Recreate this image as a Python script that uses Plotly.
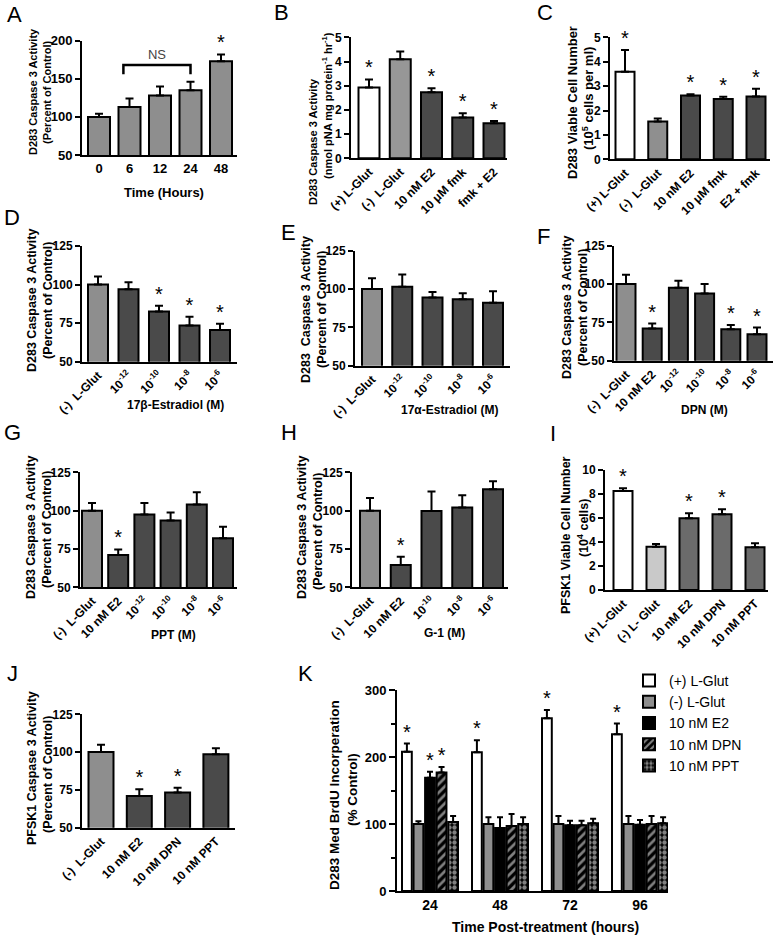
import plotly.graph_objects as go

W, H = 777, 941
FONT = "Liberation Sans, Arial, Helvetica, sans-serif"

# ---------------- data ----------------
A_labels = ["0", "6", "12", "24", "48"]
A_values = [100, 113, 128, 135, 173]
A_errors = [4, 11, 12, 11, 9]
A_stars = [0, 0, 0, 0, 1]
A_ns_x = [0.8, 3.0]
A_ns_y = [156, 168]

B_labels = ["(+) L-Glut", "(-)\u00a0 L-Glut", "10 nM E2", "10 \u03bcM fmk", "fmk + E2"]
B_values = [2.93, 4.09, 2.73, 1.69, 1.45]
B_errors = [0.33, 0.32, 0.16, 0.17, 0.09]
B_stars = [1, 0, 1, 1, 1]

C_labels = ["(+) L-Glut", "(-)\u00a0 L-Glut", "10 nM E2", "10 \u03bcM fmk", "E2 + fmk"]
C_values = [3.59, 1.55, 2.61, 2.47, 2.57]
C_errors = [0.89, 0.12, 0.06, 0.09, 0.32]
C_stars = [1, 0, 1, 1, 1]

D_labels = ["(-)\u00a0 L-Glut", "10<sup>-12</sup>", "10<sup>-10</sup>", "10<sup>-8</sup>", "10<sup>-6</sup>"]
D_values = [100, 97, 82.5, 73.5, 70.5]
D_errors = [5.3, 4.5, 3.7, 5.7, 4.1]
D_stars = [0, 0, 1, 1, 1]

E_labels = ["(-)\u00a0 L-Glut", "10<sup>-12</sup>", "10<sup>-10</sup>", "10<sup>-8</sup>", "10<sup>-6</sup>"]
E_values = [100, 101.5, 94.5, 93.3, 91]
E_errors = [7, 8, 3.5, 4, 7.6]
E_stars = [0, 0, 0, 0, 0]

F_labels = ["(-)\u00a0 L-Glut", "10 nM E2", "10<sup>-12</sup>", "10<sup>-10</sup>", "10<sup>-8</sup>", "10<sup>-6</sup>"]
F_values = [100, 71, 97.5, 93.8, 70.5, 67.3]
F_errors = [6, 3.2, 4.6, 6.2, 2.8, 4.3]
F_stars = [0, 1, 0, 0, 1, 1]

G_labels = ["(-)\u00a0 L-Glut", "10 nM E2", "10<sup>-12</sup>", "10<sup>-10</sup>", "10<sup>-8</sup>", "10<sup>-6</sup>"]
G_values = [100, 71, 97.5, 93.5, 104, 82]
G_errors = [5, 3.7, 7.5, 5.3, 8, 7.5]
G_stars = [0, 1, 0, 0, 0, 0]

H_labels = ["(-)\u00a0 L-Glut", "10 nM E2", "10<sup>-10</sup>", "10<sup>-8</sup>", "10<sup>-6</sup>"]
H_values = [100, 64.5, 99.8, 102, 114]
H_errors = [8.3, 5.4, 12.6, 8, 5.2]
H_stars = [0, 1, 0, 0, 0]

I_labels = ["(+) L-Glut", "(-) L- Glut", "10 nM E2", "10 nM DPN", "10 nM PPT"]
I_values = [8.25, 3.61, 5.97, 6.31, 3.56]
I_errors = [0.22, 0.22, 0.42, 0.41, 0.33]
I_stars = [1, 0, 1, 1, 0]

J_labels = ["(-)\u00a0 L-Glut", "10 nM E2", "10 nM DPN", "10 nM PPT"]
J_values = [100, 71, 73.3, 98.5]
J_errors = [4.8, 4.4, 3.2, 4]
J_stars = [0, 1, 1, 0]

K_times = ["24", "48", "72", "96"]
K_series = ["(+) L-Glut", "(-) L-Glut", "10 nM E2", "10 nM DPN", "10 nM PPT"]
K_values = [
    [208, 207, 258, 234],
    [100, 100, 100, 100],
    [169, 94, 98, 99],
    [177, 97, 98, 100],
    [103, 100, 101, 101],
]
K_errors = [
    [12, 18, 12, 16],
    [4, 10, 12, 12],
    [9, 16, 7, 7],
    [8, 18, 7, 12],
    [9, 10, 7, 9],
]
K_stars = [
    [1, 1, 1, 1],
    [0, 0, 0, 0],
    [1, 0, 0, 0],
    [1, 0, 0, 0],
    [0, 0, 0, 0],
]

# ---------------- styles ----------------
WHITE, LG, MG, DG = "#ffffff", "#c9c9c9", "#8e8e8e", "#4a4a4a"

fig = go.Figure()
layout = {}
annotations = []


def names(n):
    return ("x" if n == 1 else f"x{n}", "y" if n == 1 else f"y{n}",
            "xaxis" if n == 1 else f"xaxis{n}", "yaxis" if n == 1 else f"yaxis{n}")


def add_panel(n, labels, values, errors, stars, colors, geo, yrange, dtick,
              tickangle=-45, xfont=12, yfont=12):
    xa, ya, xn, yn = names(n)
    ax_px, end_px, first_px, step_px, bar_px, ybot_px, ytop_px = geo
    k = len(values)
    pos = list(range(k))
    fig.add_trace(go.Bar(
        x=pos, y=values, width=bar_px / step_px,
        marker=dict(color=colors, line=dict(color="black", width=2)),
        error_y=dict(type="data", symmetric=False, array=errors, arrayminus=[0] * k,
                     color="black", thickness=2, width=4),
        xaxis=xa, yaxis=ya, showlegend=False, hoverinfo="skip"))
    sx = [p for p, s in zip(pos, stars) if s]
    sy = [v + e for v, e, s in zip(values, errors, stars) if s]
    if sx:
        fig.add_trace(go.Scatter(
            x=sx, y=sy, mode="text", text=["*"] * len(sx), textposition="top center",
            textfont=dict(size=20, color="black", family=FONT),
            xaxis=xa, yaxis=ya, showlegend=False, cliponaxis=False, hoverinfo="skip"))
    lo = -(first_px - ax_px) / step_px
    hi = (end_px - first_px) / step_px
    layout[xn] = dict(domain=[ax_px / W, end_px / W], range=[lo, hi], anchor=ya,
                      tickmode="array", tickvals=pos, ticktext=labels, tickangle=tickangle,
                      showline=True, linewidth=2, linecolor="black", ticks="",
                      showgrid=False, zeroline=False,
                      tickfont=dict(size=xfont, color="black", family=FONT, weight="bold"))
    layout[yn] = dict(domain=[1 - ybot_px / H, 1 - ytop_px / H], range=yrange, anchor=xa,
                      tick0=yrange[0], dtick=dtick, ticks="outside", ticklen=5, tickwidth=2,
                      tickcolor="black", showline=True, linewidth=2, linecolor="black",
                      showgrid=False, zeroline=False,
                      tickfont=dict(size=yfont, color="black", family=FONT, weight="bold"))


def text(x, y, t, size, angle=0, bold=True, color="black"):
    annotations.append(dict(x=x / W, y=1 - y / H, xref="paper", yref="paper",
                            text=(f"<b>{t}</b>" if bold else t), showarrow=False,
                            textangle=angle, xanchor="center", yanchor="middle",
                            font=dict(size=size, color=color, family=FONT)))


# A
add_panel(1, A_labels, A_values, A_errors, A_stars, [MG] * 5,
          (82, 237, 99, 30.5, 22, 155, 40.7), [50, 200], 50, tickangle=0, xfont=13, yfont=13)
fig.add_trace(go.Scatter(x=[A_ns_x[0], A_ns_x[0], A_ns_x[1], A_ns_x[1]],
                         y=[A_ns_y[0], A_ns_y[1], A_ns_y[1], A_ns_y[0]], mode="lines",
                         line=dict(color="black", width=2.5), xaxis="x", yaxis="y",
                         showlegend=False, hoverinfo="skip", cliponaxis=False))
fig.add_trace(go.Scatter(x=[(A_ns_x[0] + A_ns_x[1]) / 2], y=[A_ns_y[1] + 4], mode="text",
                         text=["NS"], textposition="top center",
                         textfont=dict(size=13, color="#444444", family=FONT),
                         xaxis="x", yaxis="y", showlegend=False, hoverinfo="skip", cliponaxis=False))
# B
add_panel(2, B_labels, B_values, B_errors, B_stars, [WHITE, "#979797", DG, DG, DG],
          (351, 507, 369, 31.25, 21, 158.3, 37.3), [0, 5], 1)
# C
add_panel(3, C_labels, C_values, C_errors, C_stars, [WHITE, "#8f8f8f", DG, DG, DG],
          (610, 770, 625, 32.75, 19, 159.3, 37.3), [0, 5], 1)
# D
add_panel(4, D_labels, D_values, D_errors, D_stars, [MG] + [DG] * 4,
          (82, 237, 98, 30.5, 20, 361.7, 246), [50, 125], 25)
# E
add_panel(5, E_labels, E_values, E_errors, E_stars, [MG] + [DG] * 4,
          (355, 510, 372, 30.25, 20, 365.7, 250.7), [50, 125], 25)
# F
add_panel(6, F_labels, F_values, F_errors, F_stars, [MG] + [DG] * 5,
          (614, 773, 626, 26.2, 19, 360.7, 245.7), [50, 125], 25)
# G
add_panel(7, G_labels, G_values, G_errors, G_stars, [MG] + [DG] * 5,
          (80, 237, 92, 26.2, 20, 587.3, 472.3), [50, 125], 25)
# H
add_panel(8, H_labels, H_values, H_errors, H_stars, [MG] + [DG] * 4,
          (352, 508, 370, 30.75, 20, 587.3, 472.3), [50, 125], 25)
# I
add_panel(9, I_labels, I_values, I_errors, I_stars, [WHITE, LG, "#6b6b6b", "#6b6b6b", "#6b6b6b"],
          (605, 768, 623, 33, 19, 590, 470), [0, 10], 2)
# J
add_panel(10, J_labels, J_values, J_errors, J_stars, [MG] + [DG] * 3,
          (82, 235, 101, 38.3, 25, 827.7, 714.3), [50, 125], 25)

# K grouped bars
K_colors = [WHITE, MG, "#000000", "#000000", "#000000"]
K_patterns = [None, None, None,
              dict(shape="/", fgcolor="white", bgcolor="black", size=6, solidity=0.45),
              dict(shape=".", fgcolor="white", bgcolor="black", size=5, solidity=0.6)]
K_width = 0.14
K_step = 0.165
kpos = list(range(len(K_times)))
for i, (nm, vals, errs, stars) in enumerate(zip(K_series, K_values, K_errors, K_stars)):
    off = -0.40 + i * K_step
    mk = dict(color=K_colors[i], line=dict(color="black", width=2))
    if K_patterns[i]:
        mk["pattern"] = K_patterns[i]
    fig.add_trace(go.Bar(x=kpos, y=vals, width=K_width, offset=off, name=nm, marker=mk,
                         error_y=dict(type="data", symmetric=False, array=errs,
                                      arrayminus=[0] * len(vals), color="black",
                                      thickness=2, width=3),
                         xaxis="x11", yaxis="y11", showlegend=True, hoverinfo="skip"))
    sx = [p + off + K_width / 2 for p, s in zip(kpos, stars) if s]
    sy = [v + e for v, e, s in zip(vals, errs, stars) if s]
    if sx:
        fig.add_trace(go.Scatter(x=sx, y=sy, mode="text", text=["*"] * len(sx),
                                 textposition="top center",
                                 textfont=dict(size=20, color="black", family=FONT),
                                 xaxis="x11", yaxis="y11", showlegend=False,
                                 cliponaxis=False, hoverinfo="skip"))
layout["xaxis11"] = dict(domain=[397 / W, 668 / W], range=[-33 / 70, (668 - 430) / 70],
                         anchor="y11", tickmode="array", tickvals=kpos, ticktext=K_times,
                         showline=True, linewidth=2, linecolor="black", ticks="",
                         showgrid=False, zeroline=False,
                         tickfont=dict(size=14, color="black", family=FONT, weight="bold"))
layout["yaxis11"] = dict(domain=[1 - 891 / H, 1 - 690 / H], range=[0, 300], anchor="x11",
                         dtick=100, ticks="outside", ticklen=6, tickwidth=2, tickcolor="black",
                         minor=dict(dtick=50, ticks="outside", ticklen=4, tickwidth=2,
                                    tickcolor="black", showgrid=False),
                         showline=True, linewidth=2, linecolor="black", showgrid=False,
                         zeroline=False,
                         tickfont=dict(size=13, color="black", family=FONT, weight="bold"))

# ---------------- texts ----------------
for L, x, y in [("A", 14, 15), ("B", 281, 12), ("C", 545, 12), ("D", 12, 218), ("E", 288, 232),
                ("F", 543, 236), ("G", 12, 432), ("H", 289, 432), ("I", 553, 433),
                ("J", 12, 673), ("K", 305, 673)]:
    text(x, y, L, 22, bold=False)

ytitles = [
    ("D283 Caspase 3 Activity", 33, 92, "(Percent of Control)", 47, 92, 11),
    ("D283 Caspase 3 Activity", 313, 142, "(nmol pNA mg protein<sup>-1</sup> hr<sup>-1</sup>)", 327, 106, 11),
    ("D283 Viable Cell Number", 573, 103, "(10<sup>5</sup> cells per ml)", 588, 99, 13),
    ("D283 Caspase 3 Activity", 32, 301, "(Percent of Control)", 48, 301, 12.5),
    ("D283\u00a0 Caspase 3 Activity", 306, 310, "(Percent of Control)", 322, 310, 12.5),
    ("D283 Caspase 3 Activity", 567, 308, "(Percent of Control)", 583, 308, 12.5),
    ("D283 Caspase 3 Activity", 31, 528, "(Percent of Control)", 47, 530, 12.5),
    ("D283 Caspase 3 Activity", 302, 528, "(Percent of Control)", 318, 532, 12.5),
    ("PFSK1 Viable Cell Number", 566, 535, "(10<sup>4</sup> cells)", 583, 528, 12.5),
    ("PFSK1 Caspase 3 Activity", 32, 768, "(Percent of Control)", 48, 775, 12.5),
    ("D283 Med BrdU Incorperation", 334, 795, "(% Control)", 352, 790, 13.5),
]
for t1, x1, y1, t2, x2, y2, s in ytitles:
    text(x1, y1, t1, s, angle=-90)
    text(x2, y2, t2, s, angle=-90)

text(164, 193, "Time (Hours)", 13)
text(175, 405, "17\u03b2-Estradiol (M)", 12)
text(450, 410, "17\u03b1-Estradiol (M)", 12)
text(704, 410, "DPN (M)", 12)
text(173, 635, "PPT (M)", 12)
text(444, 633, "G-1 (M)", 12)
text(545, 927, "Time Post-treatment (hours)", 14)

layout.update(dict(
    width=W, height=H, autosize=False,
    margin=dict(l=0, r=0, t=0, b=0, pad=0, autoexpand=False),
    paper_bgcolor="white", plot_bgcolor="white",
    barmode="overlay",
    font=dict(family=FONT, color="black"),
    annotations=annotations,
    legend=dict(x=629 / W, y=1 - 665 / H, xanchor="left", yanchor="top",
                font=dict(size=14, color="black", family=FONT),
                bgcolor="rgba(0,0,0,0)", tracegroupgap=0, itemwidth=30, traceorder="normal"),
))
fig.update_layout(layout)
fig.write_html("out.html", config={"displayModeBar": False},
               post_script="document.body.style.margin='0px';document.body.style.overflow='hidden';")
